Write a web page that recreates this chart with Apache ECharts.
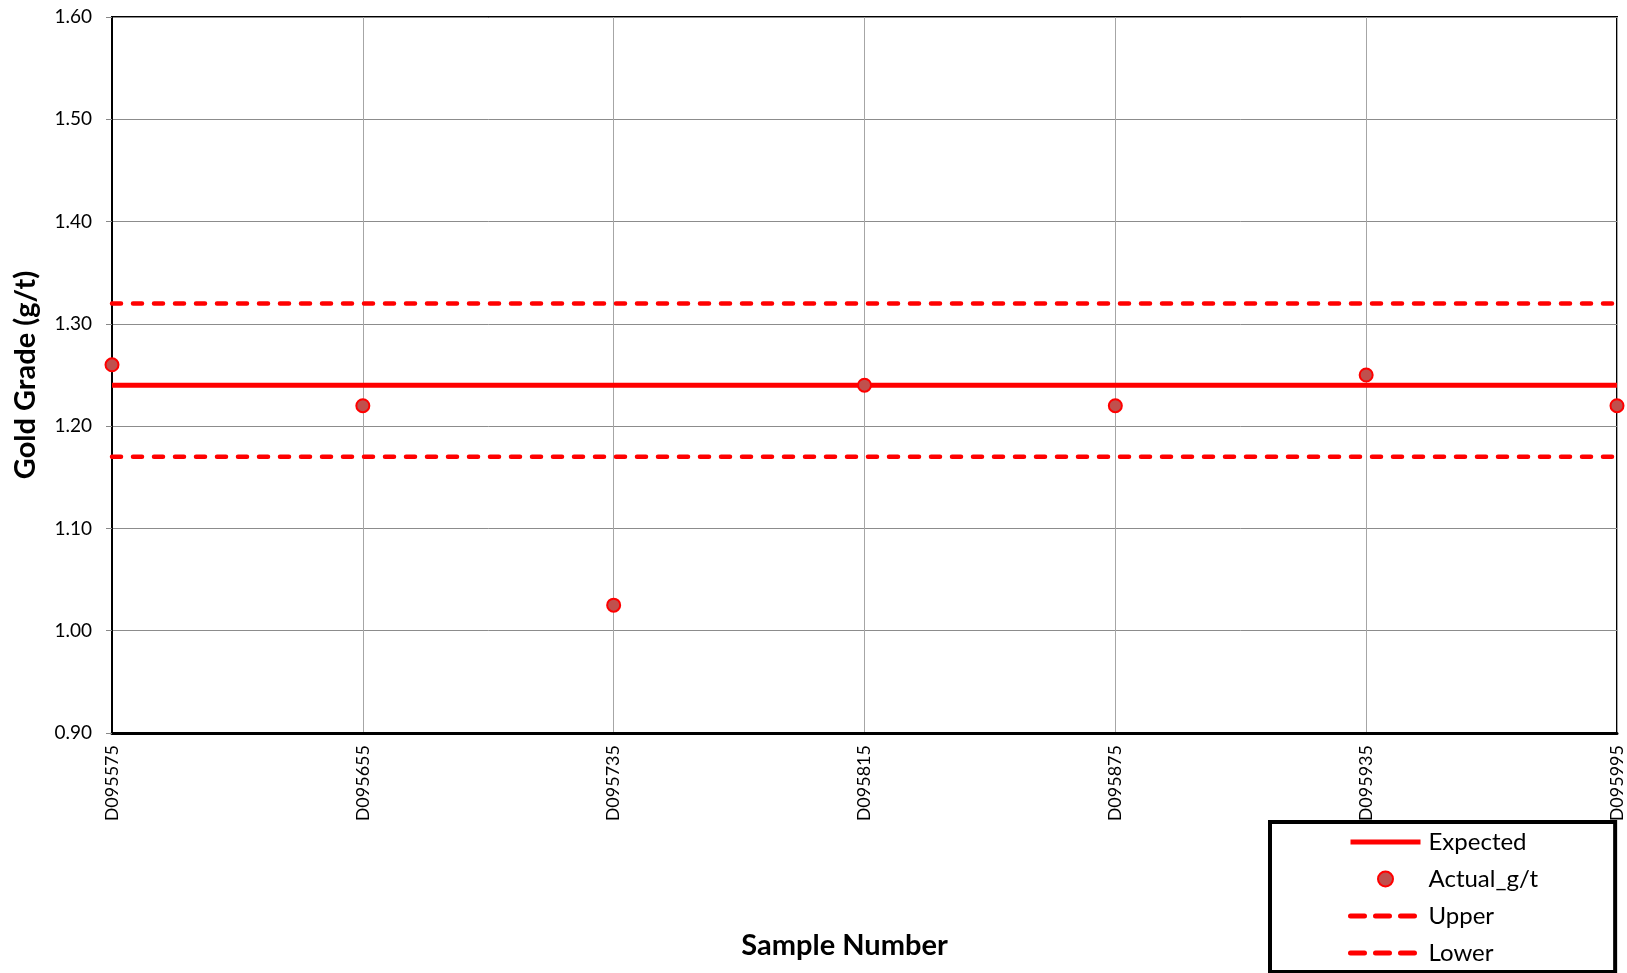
<!DOCTYPE html>
<html>
<head>
<meta charset="utf-8">
<script src="https://cdn.jsdelivr.net/npm/echarts@6/dist/echarts.min.js"></script>
<style>
html,body{margin:0;padding:0;background:#fff;}
#chart{width:1627px;height:973px;}
</style>
</head>
<body>
<div id="chart"></div>
<script>
var categories = ['D095575','D095655','D095735','D095815','D095875','D095935','D095995'];
var actual = [1.26, 1.22, 1.025, 1.24, 1.22, 1.25, 1.22];
var expected = [1.24, 1.24, 1.24, 1.24, 1.24, 1.24, 1.24];
var upper = [1.32, 1.32, 1.32, 1.32, 1.32, 1.32, 1.32];
var lower = [1.17, 1.17, 1.17, 1.17, 1.17, 1.17, 1.17];

var FONT = 'Lato';
var hideSym = {color: 'rgba(0,0,0,0)', borderWidth: 0, opacity: 0};
var chart = echarts.init(document.getElementById('chart'), null, {renderer:'canvas'});
chart.setOption({
  animation: false,
  backgroundColor: '#fff',
  textStyle: {fontFamily: FONT},
  grid: {left: 112, top: 17, right: 10, bottom: 240, show: true, borderColor: '#000', borderWidth: 2, containLabel: false},
  xAxis: {
    type: 'category', data: categories, boundaryGap: false,
    name: 'Sample Number', nameLocation: 'middle', nameGap: 198,
    nameTextStyle: {fontFamily: FONT, fontSize: 29, fontWeight: 'bold', color: '#000', padding: [0, 40, 0, 0]},
    axisLine: {lineStyle: {color: '#000', width: 3}},
    axisTick: {show: false},
    axisLabel: {rotate: 90, interval: 0, margin: 12, fontFamily: FONT, fontSize: 18, color: '#000'},
    splitLine: {show: true, interval: 0, lineStyle: {color: '#A6A6A6', width: 1}}
  },
  yAxis: {
    type: 'value', min: 0.9, max: 1.6, interval: 0.1,
    name: 'Gold Grade (g/t)', nameLocation: 'middle', nameGap: 72,
    nameTextStyle: {fontFamily: FONT, fontSize: 29, fontWeight: 'bold', color: '#000'},
    axisLine: {show: true, lineStyle: {color: '#000', width: 2}},
    axisTick: {show: true, length: 6, lineStyle: {color: '#888'}},
    axisLabel: {margin: 20, fontFamily: FONT, fontSize: 19, color: '#000', formatter: function(v){return v.toFixed(2);}},
    splitLine: {show: true, lineStyle: {color: '#8C8C8C', width: 1}}
  },
  legend: {
    orient: 'vertical', left: 1270, top: 822,
    padding: [8, 77, 7, 78],
    borderColor: '#000', borderWidth: 4, backgroundColor: '#fff',
    itemWidth: 70, itemHeight: 15, itemGap: 13,
    selectedMode: false,
    textStyle: {fontFamily: FONT, fontSize: 24, color: '#000', lineHeight: 24, padding: [0, 0, 0, 3]},
    data: [
      {name: 'Expected', itemStyle: hideSym, lineStyle: {width: 5}},
      {name: 'Actual_g/t'},
      {name: 'Upper', itemStyle: hideSym, lineStyle: {width: 5, type: [14, 11], cap: 'round'}},
      {name: 'Lower', itemStyle: hideSym, lineStyle: {width: 5, type: [14, 11], cap: 'round'}}
    ]
  },
  series: [
    {name: 'Expected', type: 'line', data: expected, symbol: 'none', lineStyle: {color: '#FF0000', width: 5}, itemStyle: {color: '#FF0000'}, z: 2},
    {name: 'Upper', type: 'line', data: upper, symbol: 'none', lineStyle: {color: '#FF0000', width: 4.5, type: [9, 12], cap: 'round'}, itemStyle: {color: '#FF0000'}, z: 2},
    {name: 'Lower', type: 'line', data: lower, symbol: 'none', lineStyle: {color: '#FF0000', width: 4.5, type: [9, 12], cap: 'round'}, itemStyle: {color: '#FF0000'}, z: 2},
    {name: 'Actual_g/t', type: 'scatter', data: actual, symbol: 'circle', symbolSize: 13, itemStyle: {color: '#C0504D', borderColor: '#FF0000', borderWidth: 2, opacity: 1}, z: 5}
  ]
});
</script>
</body>
</html>
